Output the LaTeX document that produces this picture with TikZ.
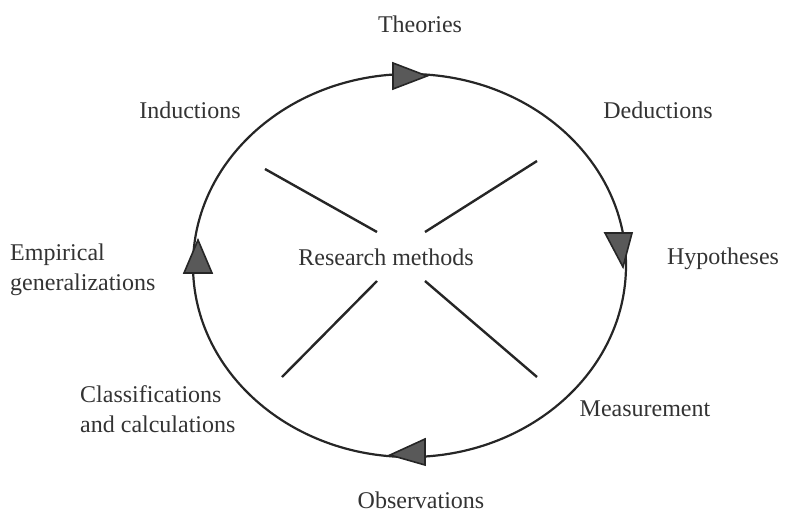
\documentclass[tikz,border=0pt]{standalone}
\usepackage{fontspec}
\setmainfont{Liberation Serif}
\usetikzlibrary{positioning}

\begin{document}
\begin{tikzpicture}[x=1pt,y=-1pt,
  word/.style={text=black!80,font=\fontsize{24}{30}\selectfont,align=left,inner sep=0pt},
  spoke/.style={line width=2.4pt,draw=black!85},
  head/.style={draw=black!85,fill=black!65,line width=1.6pt,line join=miter}]

\useasboundingbox (0,0) rectangle (788,512);

% cycle
\draw[line width=2.2pt,black!85] (409.5,265.5) ellipse [x radius=216.5,y radius=191.5];
\filldraw[head] (393,63) -- (427,76) -- (393,89) -- cycle;
\filldraw[head] (605,233) -- (632,233) -- (623,267) -- cycle;
\filldraw[head] (425,439) -- (425,465) -- (390,455) -- cycle;
\filldraw[head] (184,273) -- (212,273) -- (198,240) -- cycle;

% labels
\node[word] (theories) at (420,24) {Theories};
\node[word] (deductions) at (658,110) {Deductions};
\node[word] (hypotheses) at (723,259) {Hypotheses};
\node[word] (measurement) at (645,409) {Measurement};
\node[word] (observations) at (421,500) {Observations};
\node[word,anchor=west] (classif) at (80,409) {Classifications\\and calculations};
\node[word,anchor=west] (empirical) at (10,270) {Empirical\\generalizations};
\node[word] (inductions) at (190,110) {Inductions};
\node[word] (methods) at (386,257) {Research methods};

% spokes
\coordinate (ul) at (265,169);
\coordinate (ur) at (537,161);
\coordinate (ll) at (282,377);
\coordinate (lr) at (537,377);
\draw[spoke] (ul) -- (377,232);
\draw[spoke] (ur) -- (425,232);
\draw[spoke] (ll) -- (377,281);
\draw[spoke] (lr) -- (425,281);

\end{tikzpicture}
\end{document}
